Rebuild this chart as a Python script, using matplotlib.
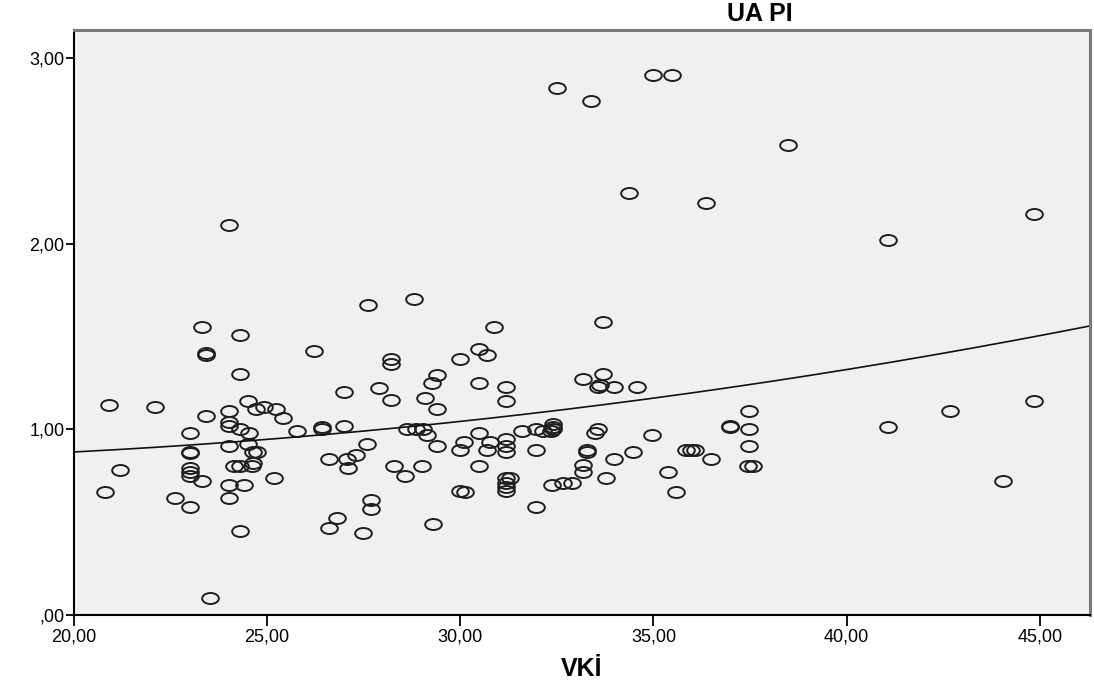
"""SPSS style scatter of UA PI against VKI with a fitted curve."""

import matplotlib
matplotlib.use("Agg")
import matplotlib.pyplot as plt
import numpy as np
from matplotlib.path import Path
from matplotlib.transforms import Affine2D

# DATA
######

vki = [
    32.49, 33.38, 34.98, 35.49, 34.37, 36.37, 38.47, 41.07, 44.85, 24.01,
    27.62, 28.81, 23.31, 24.30, 23.41, 23.41, 26.20, 24.30, 28.20, 28.20,
    26.99, 27.90, 28.20, 20.91, 22.10, 23.41, 24.01, 24.01, 24.01, 24.51,
    24.70, 24.92, 25.22, 25.40, 24.30, 24.52, 25.78, 26.41, 26.41, 26.99,
    23.00, 23.00, 23.00, 24.01, 24.51, 24.64, 24.74, 24.64, 24.61, 24.14,
    24.30, 23.00, 23.00, 23.00, 23.31, 21.19, 20.81, 22.62, 23.00, 24.01,
    24.39, 24.01, 25.19, 24.30, 23.52, 26.60, 27.06, 27.29, 27.10, 27.59,
    27.68, 27.68, 26.80, 26.60, 27.49, 28.29, 28.57, 28.63, 30.88, 33.69,
    30.48, 30.68, 29.99, 29.39, 29.27, 30.48, 31.18, 31.18, 29.09, 29.40,
    33.17, 33.69, 33.57, 33.61, 33.99, 34.58, 28.85, 29.04, 29.13, 29.40,
    29.99, 30.09, 30.48, 30.68, 30.77, 31.18, 31.18, 31.18, 31.59, 31.97,
    32.15, 32.40, 32.40, 32.40, 32.36, 31.97, 33.48, 33.57, 33.28, 33.28,
    33.98, 34.48, 34.97, 35.85, 35.97, 36.07, 36.48, 35.38, 35.58, 36.98,
    36.98, 37.47, 37.47, 37.47, 37.45, 37.58, 29.00, 30.48, 29.99, 30.12,
    31.18, 31.18, 31.18, 31.18, 31.28, 31.97, 29.30, 32.38, 32.67, 32.88,
    33.17, 33.17, 33.78, 41.07, 42.67, 44.85, 44.05,
]

ua_pi = [
    2.84, 2.77, 2.91, 2.91, 2.27, 2.22, 2.53, 2.02, 2.16, 2.10,
    1.67, 1.70, 1.55, 1.51, 1.41, 1.40, 1.42, 1.30, 1.38, 1.35,
    1.20, 1.22, 1.16, 1.13, 1.12, 1.07, 1.10, 1.04, 1.02, 1.15,
    1.11, 1.12, 1.11, 1.06, 1.00, 0.98, 0.99, 1.01, 1.00, 1.02,
    0.98, 0.88, 0.87, 0.91, 0.92, 0.88, 0.88, 0.82, 0.80, 0.80,
    0.80, 0.79, 0.77, 0.75, 0.72, 0.78, 0.66, 0.63, 0.58, 0.70,
    0.70, 0.63, 0.74, 0.45, 0.09, 0.84, 0.84, 0.86, 0.79, 0.92,
    0.62, 0.57, 0.52, 0.47, 0.44, 0.80, 0.75, 1.00, 1.55, 1.58,
    1.43, 1.40, 1.38, 1.29, 1.25, 1.25, 1.23, 1.15, 1.17, 1.11,
    1.27, 1.30, 1.23, 1.24, 1.23, 1.23, 1.00, 1.00, 0.97, 0.91,
    0.89, 0.93, 0.98, 0.89, 0.93, 0.95, 0.91, 0.88, 0.99, 1.00,
    0.99, 1.03, 1.01, 1.00, 0.99, 0.89, 0.98, 1.00, 0.88, 0.89,
    0.84, 0.88, 0.97, 0.89, 0.89, 0.89, 0.84, 0.77, 0.66, 1.02,
    1.01, 1.10, 1.00, 0.91, 0.80, 0.80, 0.80, 0.80, 0.67, 0.66,
    0.74, 0.71, 0.69, 0.67, 0.74, 0.58, 0.49, 0.70, 0.71, 0.71,
    0.77, 0.81, 0.74, 1.01, 1.10, 1.15, 0.72,
]

# fitted curve: y = c0 + c1*(x - 33) + c2*(x - 33)**2
fit_coef = [1.1141, 0.025631, 0.000574]
fit_center = 33.0

x_ticks = [20, 25, 30, 35, 40, 45]
x_tick_labels = ["20,00", "25,00", "30,00", "35,00", "40,00", "45,00"]
y_ticks = [0, 1, 2, 3]
y_tick_labels = [",00", "1,00", "2,00", "3,00"]

plt.rcParams['font.family'] = ['Liberation Sans', 'DejaVu Sans']

fig = plt.figure(figsize=(10.94, 6.89), dpi=100)
ax = fig.add_axes((74 / 1094, 74 / 689, 1016 / 1094, 585 / 689))
ax.set_facecolor('#f0f0f0')

# SPSS circles come out as flat ellipses in this picture
ellipse = Path.unit_circle().transformed(Affine2D().scale(1.0, 0.66))
ax.plot(vki, ua_pi, linestyle='none', marker=ellipse, markersize=12,
        markerfacecolor='none', markeredgecolor='#1e1e1e',
        markeredgewidth=1.4)

xs = np.linspace(20, 46.3, 200)
u = xs - fit_center
ys = fit_coef[0] + fit_coef[1] * u + fit_coef[2] * u ** 2
ax.plot(xs, ys, color='#111111', linewidth=1.2)

ax.set_xlim(20, 46.3)
ax.set_ylim(0, 3.15)
ax.set_xticks(x_ticks)
ax.set_xticklabels(x_tick_labels)
ax.set_yticks(y_ticks)
ax.set_yticklabels(y_tick_labels)
ax.tick_params(axis='x', direction='out', length=8, width=1.3,
               labelsize=13, pad=2)
ax.tick_params(axis='y', direction='out', length=6, width=1.3,
               labelsize=13, pad=1)

for side in ['left', 'bottom']:
    ax.spines[side].set_color('black')
    ax.spines[side].set_linewidth(1.5)
for side in ['top', 'right']:
    ax.spines[side].set_color('#7a7a7a')
    ax.spines[side].set_linewidth(2.2)

ax.set_xlabel('VKİ', fontsize=18, fontweight='bold', labelpad=8)
fig.text(760 / 1094, 1 - 14 / 689, 'UA PI', fontsize=18, fontweight='bold',
         ha='center', va='center')

fig.savefig('out.png', dpi=100)
